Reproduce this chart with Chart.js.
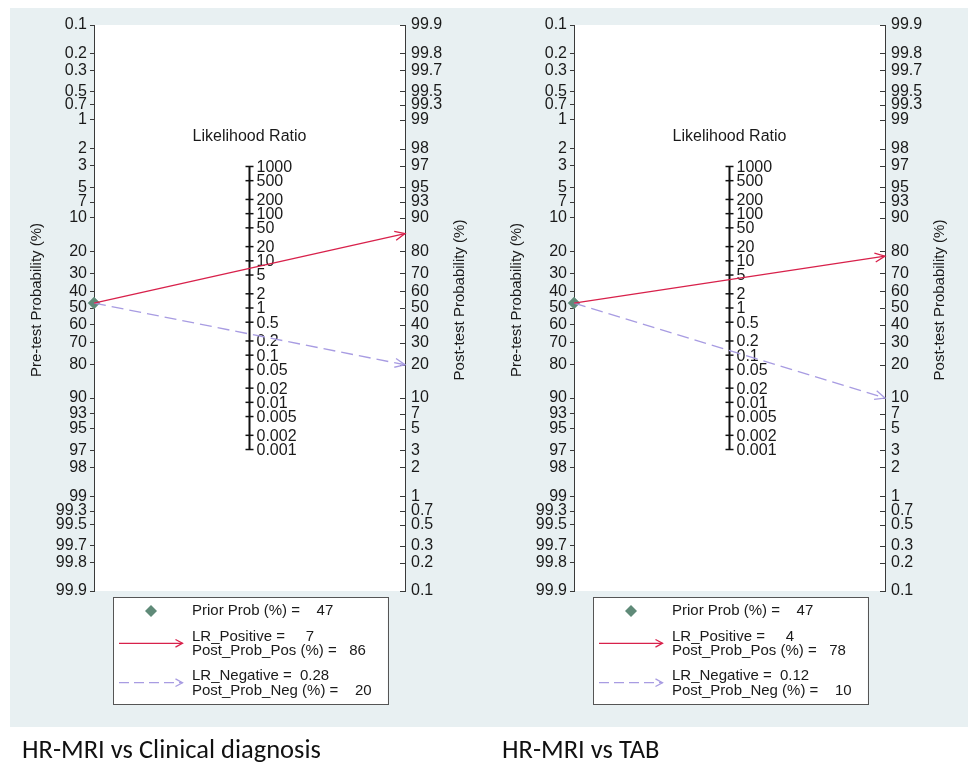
<!DOCTYPE html>
<html>
<head>
<meta charset="utf-8">
<script src="https://cdn.jsdelivr.net/npm/chart.js@4.4.1/dist/chart.umd.min.js"></script>
<style>
  html, body { margin: 0; padding: 0; background: #ffffff; }
  #stage { position: relative; width: 968px; height: 764px; overflow: hidden; background: #ffffff; }
  #bg { position: absolute; left: 10px; top: 8px; width: 958px; height: 719px; background: #e8f0f2; }
  canvas { position: absolute; top: 0; }
</style>
</head>
<body>
<div id="stage">
  <div id="bg"></div>
  <canvas id="c0" width="480" height="764" style="left:0px"></canvas>
  <canvas id="c1" width="480" height="764" style="left:480px"></canvas>
</div>
<script>
// ---------------- data ----------------
const panelTitles = ['HR-MRI vs Clinical diagnosis', 'HR-MRI vs TAB'];
const priorProb   = [47, 47];      // pre-test probability (%)
const lrPositive  = [7, 4];
const postProbPos = [86, 78];      // post-test probability after positive result (%)
const lrNegative  = [0.28, 0.12];
const postProbNeg = [20, 10];      // post-test probability after negative result (%)
const probTicks = [0.1, 0.2, 0.3, 0.5, 0.7, 1, 2, 3, 5, 7, 10, 20, 30, 40, 50, 60, 70, 80, 90,
                   93, 95, 97, 98, 99, 99.3, 99.5, 99.7, 99.8, 99.9];
const lrTicks = [1000, 500, 200, 100, 50, 20, 10, 5, 2, 1, 0.5, 0.2, 0.1, 0.05, 0.02, 0.01,
                 0.005, 0.002, 0.001];

// ---------------- styles ----------------
const FONT = "'Liberation Sans', Arial, Helvetica, sans-serif";
const RED = '#d8214b';
const LAV = '#a89ce2';
const DIAMOND = '#5f8a78';
const AXIS = '#3a3a3a';
const TXT = '#1a1a1a';

// ---------------- logit probability scale ----------------
const LIM = Math.log(999); // logit of 99.9 %
function logit(p) { p = p / 100; return Math.log(p / (1 - p)); }
const Linear = Chart.LinearScale || Chart.registry.getScale('linear');
class LogitScale extends Linear {
  determineDataLimits() { this.min = probTicks[0]; this.max = probTicks[probTicks.length - 1]; }
  buildTicks() { return probTicks.map(v => ({ value: v })); }
  getPixelForValue(v) { return this.getPixelForDecimal((logit(v) + LIM) / (2 * LIM)); }
  getValueForPixel(px) {
    const u = this.getDecimalForPixel(px) * 2 * LIM - LIM;
    return 100 / (1 + Math.exp(-u));
  }
}
LogitScale.id = 'logit';
LogitScale.defaults = { ticks: { callback: v => String(v) } };
Chart.register(LogitScale);

function chevron(ctx, x1, y1, x2, y2, len, ang, color, lw) {
  const t = Math.atan2(y2 - y1, x2 - x1);
  ctx.save();
  ctx.setLineDash([]);
  ctx.strokeStyle = color;
  ctx.lineWidth = lw;
  ctx.beginPath();
  ctx.moveTo(x2 - len * Math.cos(t - ang), y2 - len * Math.sin(t - ang));
  ctx.lineTo(x2, y2);
  ctx.lineTo(x2 - len * Math.cos(t + ang), y2 - len * Math.sin(t + ang));
  ctx.stroke();
  ctx.restore();
}

const nomoPlugin = {
  id: 'nomo',
  beforeDraw(chart) {
    const { ctx, chartArea: a } = chart;
    ctx.save();
    ctx.fillStyle = '#ffffff';
    ctx.fillRect(a.left, a.top, a.right - a.left, a.bottom - a.top);
    ctx.restore();
  },
  beforeDatasetsDraw(chart) {
    // Likelihood-ratio axis in the middle of the nomogram
    const { ctx, scales } = chart;
    const xm = scales.x.getPixelForValue(0.5);
    const yl = scales.yLR;
    const yTop = yl.getPixelForValue(lrTicks[0]);
    const yBot = yl.getPixelForValue(lrTicks[lrTicks.length - 1]);
    ctx.save();
    ctx.strokeStyle = '#111';
    ctx.lineWidth = 2;
    ctx.beginPath(); ctx.moveTo(xm, yTop); ctx.lineTo(xm, yBot); ctx.stroke();
    ctx.lineWidth = 1.5;
    ctx.font = '16px ' + FONT;
    ctx.fillStyle = TXT;
    ctx.textAlign = 'left';
    ctx.textBaseline = 'middle';
    lrTicks.forEach(v => {
      const y = yl.getPixelForValue(v);
      ctx.beginPath(); ctx.moveTo(xm - 4, y); ctx.lineTo(xm + 4, y); ctx.stroke();
      ctx.fillText(String(v), xm + 7, y + 1);
    });
    ctx.textAlign = 'center';
    ctx.fillText('Likelihood Ratio', xm, yTop - 30);
    // inward ticks of the post-test axis
    const yp = scales.yPost;
    ctx.strokeStyle = AXIS;
    ctx.lineWidth = 1;
    probTicks.forEach(v => {
      const y = Math.round(yp.getPixelForValue(v)) + 0.5;
      ctx.beginPath(); ctx.moveTo(yp.left - 5, y); ctx.lineTo(yp.left, y); ctx.stroke();
    });
    ctx.restore();
  },
  afterDatasetsDraw(chart) {
    const { ctx } = chart;
    chart.data.datasets.forEach((ds, i) => {
      if (!ds.arrow) return;
      const pts = chart.getDatasetMeta(i).data;
      const p0 = pts[0], p1 = pts[pts.length - 1];
      chevron(ctx, p0.x, p0.y, p1.x, p1.y, 11, 0.42, ds.borderColor, 1.3);
    });
  },
  afterDraw(chart) {
    const { ctx, chartArea: a } = chart;
    const idx = chart.options.plugins.nomo.panel;
    const midY = (a.top + a.bottom) / 2 - 8;
    ctx.save();
    ctx.fillStyle = TXT;
    ctx.font = '15px ' + FONT;
    ctx.textAlign = 'center';
    ctx.textBaseline = 'middle';
    [[a.left - 57, 'Pre-test Probability (%)'], [a.right + 55, 'Post-test Probability (%)']].forEach(([x, t]) => {
      ctx.save(); ctx.translate(x, midY); ctx.rotate(-Math.PI / 2); ctx.fillText(t, 0, 0); ctx.restore();
    });

    // legend
    const rows = [
      'Prior Prob (%) =    ' + priorProb[idx],
      'LR_Positive =     ' + lrPositive[idx],
      'Post_Prob_Pos (%) =   ' + postProbPos[idx],
      'LR_Negative =  ' + lrNegative[idx],
      'Post_Prob_Neg (%) =    ' + postProbNeg[idx]
    ];
    const rowY = [20, 45.7, 60, 84.7, 99.7];
    const bx = a.left + 19, by = a.bottom + 6, tx = a.left + 98;
    ctx.textAlign = 'left';
    const maxW = Math.max(...rows.map(r => ctx.measureText(r).width));
    const bw = tx + maxW + 16 - bx, bh = 107;
    ctx.fillStyle = '#ffffff';
    ctx.fillRect(bx, by, bw, bh);
    ctx.strokeStyle = '#555';
    ctx.lineWidth = 1;
    ctx.strokeRect(Math.round(bx) + 0.5, Math.round(by) + 0.5, Math.round(bw), bh);
    ctx.fillStyle = TXT;
    rows.forEach((r, k) => ctx.fillText(r, tx, a.bottom + rowY[k]));
    // legend symbols
    const dx = a.left + 57, dy = a.bottom + 20, r = 6;
    ctx.fillStyle = DIAMOND;
    ctx.beginPath();
    ctx.moveTo(dx, dy - r); ctx.lineTo(dx + r, dy); ctx.lineTo(dx, dy + r); ctx.lineTo(dx - r, dy);
    ctx.closePath(); ctx.fill();
    const lx0 = a.left + 25, lx1 = a.left + 88.5;
    const ly1 = a.bottom + 52.3, ly2 = a.bottom + 91.7;
    ctx.lineWidth = 1.3;
    ctx.strokeStyle = RED;
    ctx.beginPath(); ctx.moveTo(lx0, ly1); ctx.lineTo(lx1, ly1); ctx.stroke();
    chevron(ctx, lx0, ly1, lx1, ly1, 8, 0.5, RED, 1.3);
    ctx.strokeStyle = LAV;
    ctx.setLineDash([10, 5]);
    ctx.beginPath(); ctx.moveTo(lx0, ly2); ctx.lineTo(lx1, ly2); ctx.stroke();
    ctx.setLineDash([]);
    chevron(ctx, lx0, ly2, lx1, ly2, 8, 0.5, LAV, 1.3);

    // panel caption
    ctx.fillStyle = '#111';
    ctx.font = "26.5px Carlito, Lato, 'Open Sans', sans-serif";
    ctx.textBaseline = 'alphabetic';
    ctx.fillText(panelTitles[idx], 22, 758);
    ctx.restore();
  }
};

function fitWidth(w) {
  return s => { s.width = w; s.paddingTop = 0; s.paddingBottom = 0; };
}

function makePanel(canvasId, i) {
  const tickFont = { family: FONT, size: 16 };
  return new Chart(document.getElementById(canvasId), {
    type: 'line',
    data: {
      datasets: [
        { // positive result: pre-test axis is the mirror image of the post-test axis
          label: 'LR_Positive',
          data: [{ x: 0, y: 100 - priorProb[i] }, { x: 1, y: postProbPos[i] }],
          yAxisID: 'yPost', borderColor: RED, borderWidth: 1.4,
          pointRadius: 0, clip: false, fill: false, tension: 0, arrow: true
        },
        {
          label: 'LR_Negative',
          data: [{ x: 0, y: 100 - priorProb[i] }, { x: 1, y: postProbNeg[i] }],
          yAxisID: 'yPost', borderColor: LAV, borderWidth: 1.4, borderDash: [12, 6],
          pointRadius: 0, clip: false, fill: false, tension: 0, arrow: true
        },
        {
          label: 'Prior Prob',
          data: [{ x: 0, y: priorProb[i] }],
          yAxisID: 'yPre', showLine: false, pointStyle: 'rectRot',
          pointRadius: 6, backgroundColor: DIAMOND, borderColor: DIAMOND, borderWidth: 0.5, clip: false
        }
      ]
    },
    options: {
      responsive: false,
      animation: false,
      events: [],
      layout: { padding: { left: 10, right: 0, top: 25, bottom: 173 } },
      plugins: { legend: { display: false }, tooltip: { enabled: false }, nomo: { panel: i } },
      scales: {
        x: { type: 'linear', min: 0, max: 1, display: false },
        yPre: {
          type: 'logit', position: 'left', reverse: true,
          afterFit: fitWidth(84),
          border: { color: AXIS, width: 1 },
          grid: { drawOnChartArea: false, tickLength: 4, color: AXIS, tickWidth: 1 },
          ticks: { autoSkip: false, padding: 3, color: TXT, font: tickFont, callback: v => String(v) }
        },
        yPost: {
          type: 'logit', position: 'right', reverse: false,
          afterFit: fitWidth(75),
          border: { color: AXIS, width: 1 },
          grid: { drawOnChartArea: false, drawTicks: false },
          ticks: { autoSkip: false, padding: 6, color: TXT, font: tickFont, callback: v => String(v) }
        },
        yLR: { type: 'logarithmic', display: false, min: 1 / (999 * 999), max: 999 * 999 }
      }
    },
    plugins: [nomoPlugin]
  });
}

makePanel('c0', 0);
makePanel('c1', 1);
</script>
</body>
</html>
